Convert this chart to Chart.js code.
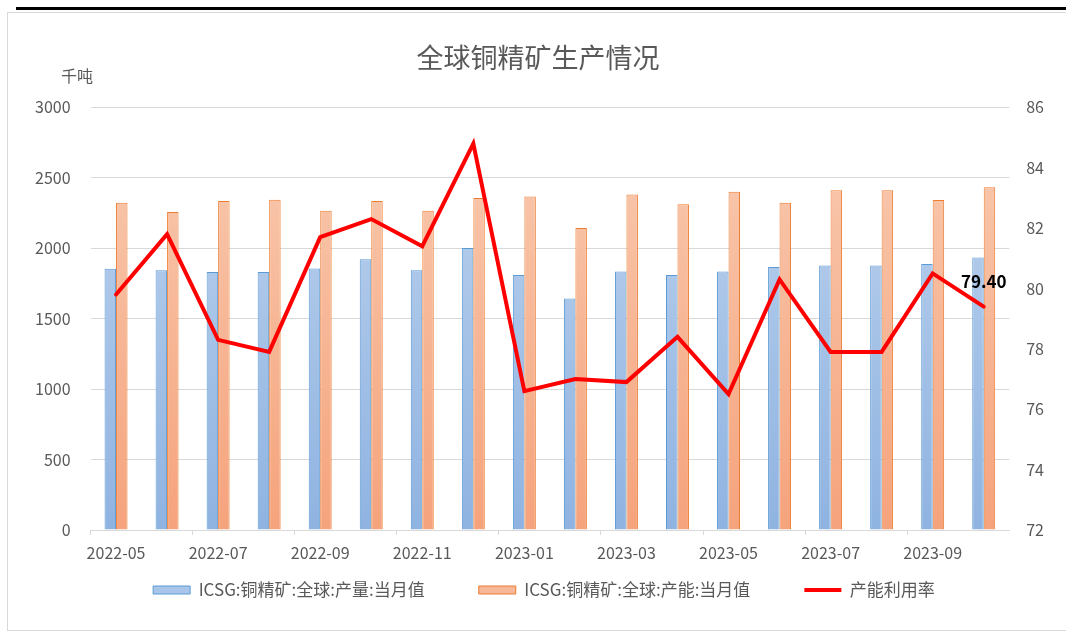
<!DOCTYPE html>
<html>
<head>
<meta charset="utf-8">
<script src="https://cdn.jsdelivr.net/npm/chart.js@4.4.1/dist/chart.umd.min.js"></script>
<style>
  body { margin: 0; background: #fff; }
  #wrap { position: relative; width: 1066px; height: 636px; overflow: hidden; }
  #topLine { position: absolute; left: 16px; right: 0; top: 7px; height: 3px; background: #000; }
  #frame { position: absolute; left: 7px; top: 12px; width: 1070px; height: 617px; border: 1px solid #d9d9d9; }
  #chart { position: absolute; left: 0; top: 0; }
</style>
</head>
<body>
<div id="wrap">
  <div id="topLine"></div>
  <div id="frame"></div>
  <canvas id="chart" width="1066" height="636"></canvas>
</div>
<script>
const months = ['2022-05', '2022-06', '2022-07', '2022-08', '2022-09', '2022-10', '2022-11', '2022-12',
    '2023-01', '2023-02', '2023-03', '2023-04', '2023-05', '2023-06', '2023-07', '2023-08', '2023-09', '2023-10'];

// 千吨
const output = [1855, 1844, 1832, 1832, 1856, 1922, 1844, 2002, 1811,
    1643, 1835, 1811, 1835, 1867, 1877, 1877, 1889, 1934];
const capacity = [2324, 2257, 2336, 2345, 2267, 2336, 2267, 2357, 2367,
    2144, 2381, 2312, 2402, 2324, 2411, 2411, 2343, 2433];
// %
const utilisation = [79.8, 81.8, 78.3, 77.9, 81.7, 82.3, 81.4, 84.8, 76.6,
    77.0, 76.9, 78.4, 76.5, 80.3, 77.9, 77.9, 80.5, 79.4];

const leftTicks = [0, 3000, 500];
const rightTicks = [72, 86, 2];

const grey = '#595959';
const cjk = '"Noto Sans CJK SC", "Noto Sans", sans-serif';

function barFill(topColor, bottomColor) {
    return (ctx) => {
        const area = ctx.chart.chartArea;
        if (!area) return bottomColor;
        const g = ctx.chart.ctx.createLinearGradient(0, area.top + 90, 0, area.bottom);
        g.addColorStop(0, topColor);
        g.addColorStop(1, bottomColor);
        return g;
    };
}

// legend items need a wide horizontal gap but a small vertical one
const legendGap = 54;
const legendTopPad = 10.5;
const legendPlace = {
    id: 'legendPlace',
    beforeInit(chart) {
        const lg = chart.legend;
        const fit = lg.fit;
        const drawItems = lg._draw;
        lg.fit = function () {
            fit.call(this);
            this.height = 17 + legendTopPad + 10;
        };
        lg._draw = function () {
            this.ctx.save();
            this.ctx.translate(6, legendTopPad - legendGap);
            drawItems.call(this);
            this.ctx.restore();
        };
    }
};

const extraText = {
    id: 'extraText',
    afterDraw(chart) {
        const ctx = chart.ctx;
        ctx.save();
        ctx.fillStyle = grey;
        ctx.font = '16px ' + cjk;
        ctx.textAlign = 'center';
        ctx.textBaseline = 'middle';
        ctx.fillText('千吨', 77, 76);

        const meta = chart.getDatasetMeta(2);
        const last = meta.data[meta.data.length - 1];
        ctx.fillStyle = '#000';
        ctx.font = 'bold 17px ' + cjk;
        ctx.fillText(utilisation[utilisation.length - 1].toFixed(2), last.x, last.y - 25);
        ctx.restore();
    }
};

new Chart(document.getElementById('chart'), {
    type: 'bar',
    data: {
        labels: months,
        datasets: [
            {
                label: 'ICSG:铜精矿:全球:产量:当月值',
                data: output,
                yAxisID: 'y',
                backgroundColor: barFill('#b5cdeb', '#8fb3e1'),
                borderColor: '#5b9bd5',
                borderWidth: 1,
                pointStyle: 'rect',
                categoryPercentage: 0.45,
                barPercentage: 1.0
            },
            {
                label: 'ICSG:铜精矿:全球:产能:当月值',
                data: capacity,
                yAxisID: 'y',
                backgroundColor: barFill('#f8c3a7', '#f5a37c'),
                borderColor: '#ed7d31',
                borderWidth: 1,
                pointStyle: 'rect',
                categoryPercentage: 0.45,
                barPercentage: 1.0
            },
            {
                type: 'line',
                label: '产能利用率',
                data: utilisation,
                yAxisID: 'y1',
                borderColor: '#ff0000',
                backgroundColor: '#ff0000',
                borderWidth: 4,
                borderCapStyle: 'round',
                pointRadius: 0,
                pointStyle: 'line',
                tension: 0,
                order: -1
            }
        ]
    },
    options: {
        responsive: false,
        animation: false,
        layout: { padding: { left: 15, right: 5, top: 0, bottom: 27.5 } },
        plugins: {
            title: {
                display: true,
                text: '全球铜精矿生产情况',
                color: grey,
                font: { family: cjk, size: 27, weight: 'normal' },
                padding: { top: 42, bottom: 33 }
            },
            legend: {
                position: 'bottom',
                labels: {
                    color: grey,
                    font: { family: cjk, size: 17 },
                    usePointStyle: true,
                    pointStyleWidth: 37,
                    boxHeight: 8,
                    padding: legendGap,
                    sort: (a, b) => a.datasetIndex - b.datasetIndex,
                    generateLabels(chart) {
                        const items = Chart.defaults.plugins.legend.labels.generateLabels(chart);
                        items.forEach(item => {
                            if (item.datasetIndex === 0) item.fillStyle = '#a9c6ea';
                            if (item.datasetIndex === 1) item.fillStyle = '#f7b899';
                        });
                        return items;
                    }
                }
            },
            tooltip: { enabled: false }
        },
        scales: {
            x: {
                grid: {
                    drawOnChartArea: false,
                    tickLength: 5,
                    tickColor: (ctx) => ctx.index % 2 === 0 ? '#d9d9d9' : 'rgba(0,0,0,0)'
                },
                border: { display: true, color: '#d9d9d9' },
                ticks: {
                    autoSkip: false,
                    maxRotation: 0,
                    color: grey,
                    padding: 8.4,
                    font: { family: cjk, size: 16 },
                    callback: (v, i) => i % 2 === 0 ? months[i] : ''
                }
            },
            y: {
                position: 'left',
                min: leftTicks[0],
                max: leftTicks[1],
                grid: { color: '#d9d9d9', drawTicks: false },
                border: { display: false },
                ticks: {
                    stepSize: leftTicks[2],
                    color: grey,
                    padding: 20,
                    font: { family: cjk, size: 16 },
                    callback: (v) => String(v)
                }
            },
            y1: {
                position: 'right',
                min: rightTicks[0],
                max: rightTicks[1],
                grid: { drawOnChartArea: false, drawTicks: false },
                border: { display: false },
                ticks: {
                    stepSize: rightTicks[2],
                    color: grey,
                    padding: 17,
                    font: { family: cjk, size: 16 }
                }
            }
        }
    },
    plugins: [legendPlace, extraText]
});
</script>
</body>
</html>
